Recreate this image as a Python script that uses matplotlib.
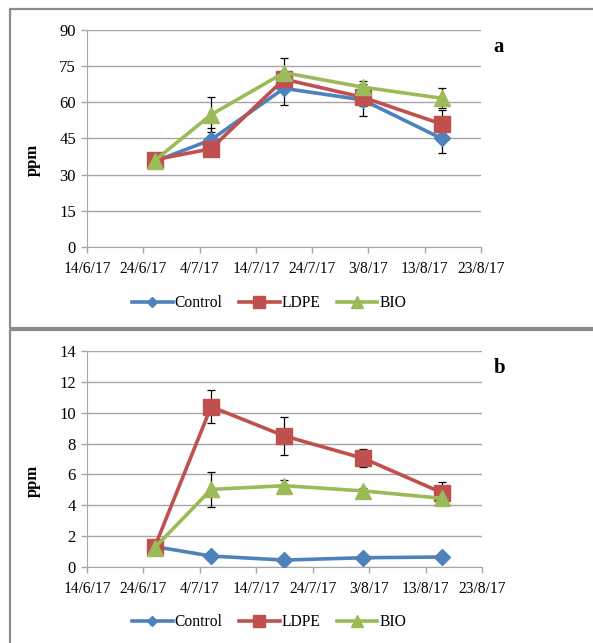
import datetime as dt
import matplotlib
matplotlib.use("Agg")
import matplotlib.pyplot as plt
import matplotlib.dates as mdates
from matplotlib.lines import Line2D
from matplotlib.ticker import MultipleLocator

plt.rcParams["font.family"] = ["Liberation Serif", "DejaVu Serif"]

# Sampling dates
dates = [dt.date(2017, 6, 26), dt.date(2017, 7, 6), dt.date(2017, 7, 19),
         dt.date(2017, 8, 2), dt.date(2017, 8, 16)]
series_names = ["Control", "LDPE", "BIO"]

# Date axis ticks, every ten days
tick_dates = [dt.date(2017, 6, 14) + dt.timedelta(days=10 * i) for i in range(8)]
tick_labels = [f"{d.day}/{d.month}/{d.year % 100}" for d in tick_dates]

# Panel a values (ppm) and standard deviations
a_control = [35.5, 44.4, 65.8, 61.0, 45.0]
a_ldpe = [36.2, 40.7, 69.6, 62.1, 51.0]
a_bio = [35.8, 54.8, 72.3, 66.3, 61.7]
a_control_err = [0.0, 4.8, 7.0, 6.8, 5.9]
a_ldpe_err = [0.0, 0.0, 2.0, 3.6, 6.0]
a_bio_err = [0.0, 7.3, 6.2, 2.5, 4.1]

# Panel b values (ppm) and standard deviations
b_control = [1.32, 0.71, 0.45, 0.60, 0.65]
b_ldpe = [1.30, 10.39, 8.49, 7.04, 4.80]
b_bio = [1.25, 5.03, 5.27, 4.93, 4.45]
b_control_err = [0.0, 0.0, 0.0, 0.0, 0.0]
b_ldpe_err = [0.0, 1.05, 1.23, 0.58, 0.70]
b_bio_err = [0.0, 1.13, 0.40, 0.20, 0.0]

colors = ["#4F81BD", "#C0504D", "#9BBB59"]
markers = ["D", "s", "^"]
msizes = [8.5, 11.5, 12.0]
grid_c = "#A6A6A6"

W, H = 593, 643
fig = plt.figure(figsize=(W / 100, H / 100), dpi=100)


def px_axes(left, top, right, bottom):
    return fig.add_axes([left / W, 1 - bottom / H, (right - left) / W, (bottom - top) / H])


def draw_panel(ax, vals, errs, ymax, ystep, letter):
    x = mdates.date2num(dates)
    for v, e in zip(vals, errs):
        ax.errorbar(x, v, yerr=e, fmt="none", ecolor="black", elinewidth=0.9,
                    capsize=3.0, capthick=0.9, zorder=2)
    for v, c, m, ms in zip(vals, colors, markers, msizes):
        ax.plot(x, v, color=c, lw=2.6, marker=m, ms=ms, mec=c, mfc=c,
                zorder=3, solid_joinstyle="round")
    ticks = mdates.date2num(tick_dates)
    ax.set_xlim(ticks[0], ticks[-1])
    ax.set_xticks(ticks)
    ax.set_xticklabels(tick_labels)
    ax.set_ylim(0, ymax)
    ax.yaxis.set_major_locator(MultipleLocator(ystep))
    ax.grid(axis="y", color=grid_c, lw=1.0)
    ax.set_axisbelow(True)
    for s in ["top", "right"]:
        ax.spines[s].set_visible(False)
    ax.spines["left"].set_color(grid_c)
    ax.spines["bottom"].set_color(grid_c)
    ax.tick_params(axis="both", colors=grid_c, labelcolor="black",
                   length=4, width=1.0, direction="out")
    ax.tick_params(axis="x", pad=6, labelsize=11.2)
    ax.tick_params(axis="y", pad=4, labelsize=12)
    ax.set_ylabel("ppm", fontweight="bold", fontsize=12)
    ax.yaxis.set_label_coords(-0.118, 0.40)
    ax.text(1.045, 0.92, letter, transform=ax.transAxes, fontsize=15,
            fontweight="bold", ha="center", va="center")


ax_a = px_axes(87, 30, 481, 247)
draw_panel(ax_a, [a_control, a_ldpe, a_bio],
           [a_control_err, a_ldpe_err, a_bio_err], 90, 15, "a")

ax_b = px_axes(87, 351, 482, 567)
draw_panel(ax_b, [b_control, b_ldpe, b_bio],
           [b_control_err, b_ldpe_err, b_bio_err], 14, 2, "b")

# Legends below each plot
handles = [Line2D([], [], color=c, lw=2.6, marker=m, ms=s, mec=c, mfc=c)
           for c, m, s in zip(colors, markers, [5, 8, 8.5])]
for ycen in [303, 622]:
    fig.legend(handles, series_names, loc="center", bbox_to_anchor=(269 / W, 1 - ycen / H),
               ncol=3, frameon=False, fontsize=11.2, handlelength=2.6,
               handletextpad=0.1, columnspacing=1.1, borderpad=0)

# Panel frames
frame_c = "#8C8C8C"
for (l, t, r, b) in [(10, 9, 600, 328), (10, 330, 600, 660)]:
    xs = [r / W, l / W, l / W, r / W]
    ys = [1 - t / H, 1 - t / H, 1 - b / H, 1 - b / H]
    fig.add_artist(Line2D(xs, ys, color=frame_c, lw=1.6, transform=fig.transFigure))

fig.savefig("out.png", dpi=100)
